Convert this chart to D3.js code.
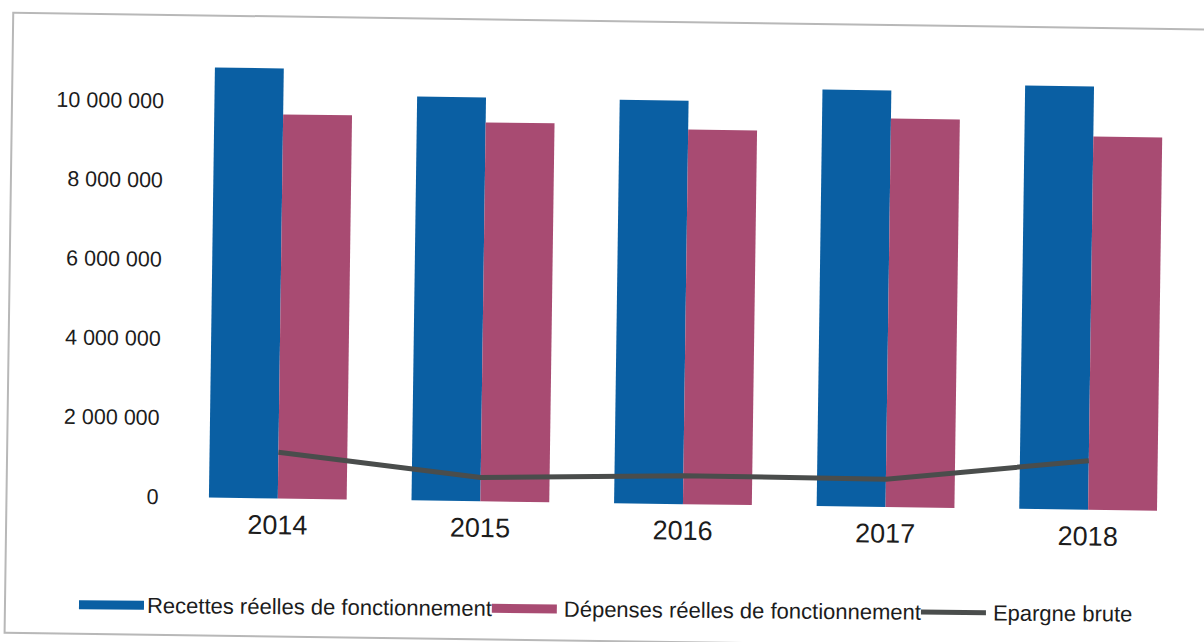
<!DOCTYPE html>
<html>
<head>
<meta charset="utf-8">
<script src="https://cdn.jsdelivr.net/npm/d3@7.9.0/dist/d3.min.js"></script>
<style>
  body { margin: 0; background: #fff; }
  svg { display: block; font-family: 'Liberation Sans', Arial, sans-serif; }
</style>
</head>
<body>
<svg id="chart" width="1204" height="642"></svg>
<script>
const years = ['2014', '2015', '2016', '2017', '2018'];
const recettes = [10860000, 10200000, 10190000, 10520000, 10690000];
const depenses = [9700000, 9570000, 9460000, 9810000, 9430000];
const epargne = [1170000, 600000, 720000, 700000, 1240000];
const yTicks = [0, 2000000, 4000000, 6000000, 8000000, 10000000];
const seriesNames = ['Recettes réelles de fonctionnement', 'Dépenses réelles de fonctionnement', 'Epargne brute'];
const colors = ['#0a5fa3', '#a84b72', '#4a4d4c'];

const svg = d3.select('#chart');
// the scan is slightly tilted, so everything sits in a rotated group
const g = svg.append('g').attr('transform', 'rotate(0.8, 602, 321)');

// frame
g.append('rect')
  .attr('x', 9).attr('y', 21)
  .attr('width', 1300).attr('height', 620)
  .attr('fill', 'none')
  .attr('stroke', '#b8b8b8')
  .attr('stroke-width', 2);

const x = d3.scaleBand().domain(years).range([179, 1192]).paddingInner(0.32).paddingOuter(0.16);
const xSub = d3.scaleBand().domain([0, 1]).range([0, x.bandwidth()]);
const y = d3.scaleLinear().domain([0, 10000000]).range([503, 107]);

const fmt = v => d3.format(',')(v).replace(/,/g, ' ');

// y axis labels
const yAxis = g.append('g')
  .attr('transform', 'translate(161,0)')
  .call(d3.axisLeft(y).tickValues(yTicks).tickFormat(fmt).tickSize(0).tickPadding(0));
yAxis.select('.domain').remove();
yAxis.selectAll('text')
  .attr('font-size', 21.5)
  .attr('fill', '#1c1c1c')
  .attr('font-family', "'Liberation Sans', Arial, sans-serif");

// bars
[recettes, depenses].forEach((vals, s) => {
  g.append('g').selectAll('rect')
    .data(vals)
    .join('rect')
    .attr('x', (d, i) => x(years[i]) + xSub(s))
    .attr('y', d => y(d))
    .attr('width', xSub.bandwidth())
    .attr('height', d => y(0) - y(d))
    .attr('fill', colors[s]);
});

// epargne line
const line = d3.line()
  .x((d, i) => x(years[i]) + x.bandwidth() / 2)
  .y(d => y(d));
g.append('path')
  .datum(epargne)
  .attr('d', line)
  .attr('fill', 'none')
  .attr('stroke', colors[2])
  .attr('stroke-width', 5)
  .attr('stroke-linejoin', 'round');

// x axis labels
const xAxis = g.append('g')
  .attr('transform', 'translate(0,513)')
  .call(d3.axisBottom(x).tickSize(0).tickPadding(0));
xAxis.select('.domain').remove();
xAxis.selectAll('text')
  .attr('dy', '0.95em')
  .attr('font-size', 27)
  .attr('fill', '#1c1c1c')
  .attr('font-family', "'Liberation Sans', Arial, sans-serif");

// legend (a bit less tilted than the rest in the scan)
const legend = g.append('g').attr('transform', 'translate(83,612) rotate(-0.3)');
let lx = 0;
seriesNames.forEach((name, i) => {
  const item = legend.append('g').attr('transform', `translate(${lx},0)`);
  item.append('rect')
    .attr('x', 0).attr('y', i === 2 ? -2.5 : -4.5)
    .attr('width', 65).attr('height', i === 2 ? 5 : 9)
    .attr('fill', colors[i]);
  const tx = i === 0 ? 68 : 72;
  const t = item.append('text')
    .attr('x', tx).attr('y', 0)
    .attr('dy', '0.35em')
    .attr('font-size', 22)
    .attr('fill', '#1c1c1c')
    .text(name);
  lx += tx + t.node().getComputedTextLength();
});
</script>
</body>
</html>
